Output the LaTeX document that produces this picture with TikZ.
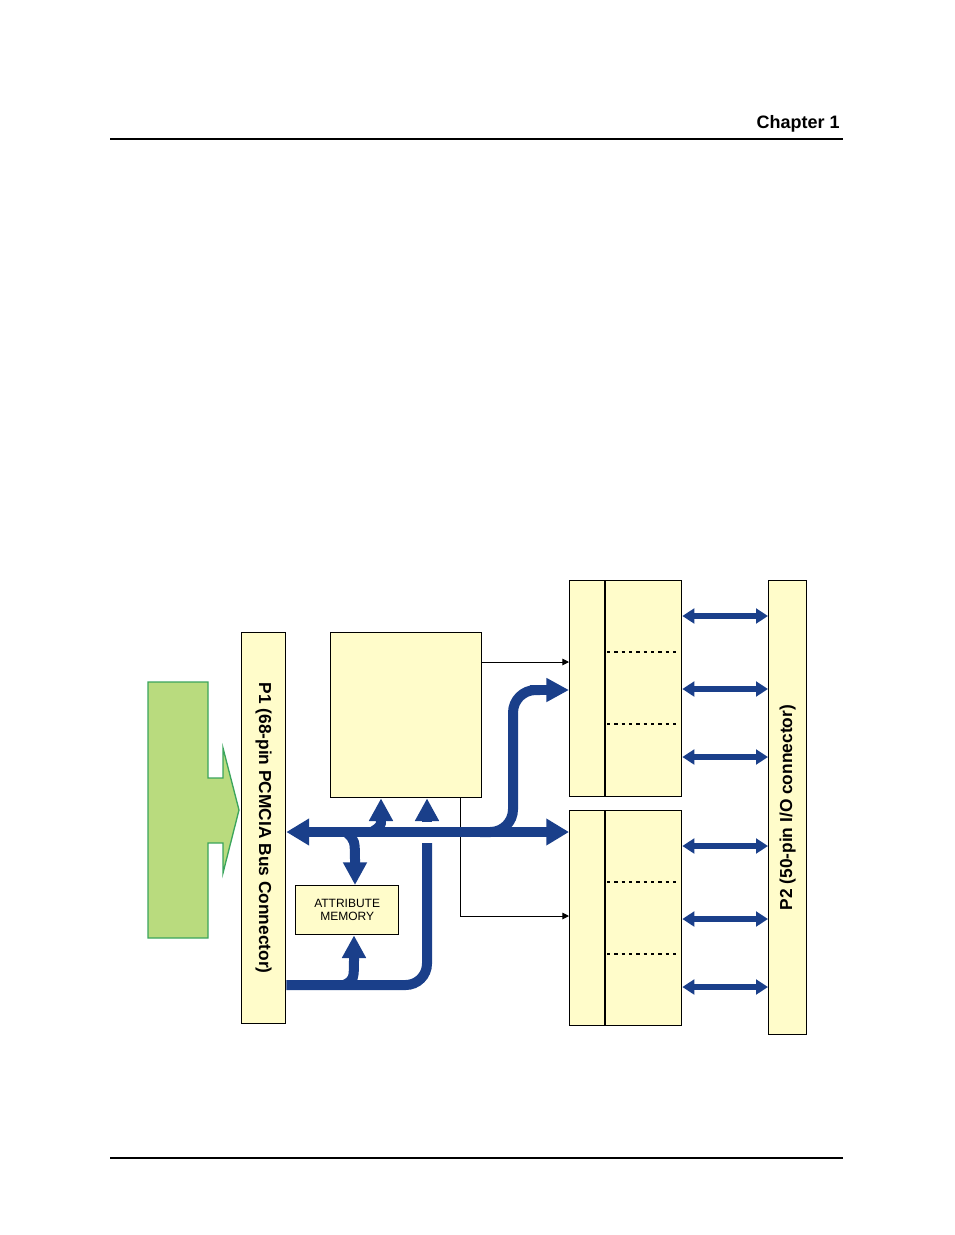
\documentclass[tikz,border=0pt]{standalone}
\usepackage{fontspec}
\setmainfont{Liberation Sans}
\usetikzlibrary{arrows.meta}
\definecolor{ylw}{HTML}{FFFCCA}
\definecolor{bus}{HTML}{1A3F8A}
\definecolor{grn}{HTML}{B9DB7E}
\definecolor{grnd}{HTML}{3BA55C}
\tikzset{
 box/.style={draw=black,line width=1pt,fill=ylw,inner sep=0pt,anchor=north west},
 busline/.style={draw=bus,line width=7.5pt},
 busarr/.style={busline,-{Triangle[length=17pt,width=17pt]}},
 busdbl/.style={busline,{Triangle[length=17pt,width=19pt]}-{Triangle[length=17pt,width=19pt]}},
 ioarr/.style={draw=bus,line width=4pt,{Triangle[length=9pt,width=11pt]}-{Triangle[length=9pt,width=11pt]}},
 ctl/.style={draw=black,line width=0.7pt,-{Triangle[length=5pt,width=5pt]}},
 dotsep/.style={draw=black,line width=0.9pt,dash pattern=on 2.5pt off 3pt}
}
\newcommand\bx[5]{\node[box,minimum width={(#4-#2)*0.75pt},minimum height={(#5-#3)*0.75pt}] (#1) at (#2,#3) {};}
\begin{document}
\begin{tikzpicture}[x=0.75pt,y=-0.75pt]
\useasboundingbox (0,0) rectangle (954,1235);
% header/footer
\node[anchor=south east,inner sep=0pt,font=\bfseries\fontsize{13.5}{15}\selectfont] (ch) at (840,133) {Chapter 1};
\coordinate (hl) at (110,139); \coordinate (hr) at (843,139);
\draw[line width=0.8pt] (hl) -- (hr);
\coordinate (fl) at (110,1158); \coordinate (fr) at (843,1158);
\draw[line width=0.8pt] (fl) -- (fr);
% green arrow
\draw[fill=grn,draw=grnd,line width=1pt] (148,682) -- (208,682) -- (208,778) -- (223,778) -- (223,748) -- (239,810) -- (223,873) -- (223,843) -- (208,843) -- (208,938) -- (148,938) -- cycle;
% boxes
\bx{P1}{241}{632}{285}{1023}
\node[rotate=-90,font=\bfseries\fontsize{13}{15}\selectfont] at (P1.center) {P1 (68-pin PCMCIA Bus Connector)};
\bx{CT}{330}{632}{481}{797}
\bx{AM}{295}{885}{398}{934}
\node[align=center,font=\fontsize{9}{10}\selectfont] at (AM.center) {ATTRIBUTE\\MEMORY};
\bx{M1}{569}{580}{681}{796}
\bx{M2}{569}{810}{681}{1025}
\bx{P2}{768}{580}{806}{1034}
\node[rotate=90,font=\bfseries\fontsize{13}{15}\selectfont] at (P2.center) {P2 (50-pin I/O connector)};
\draw[line width=0.8pt] (605,580) -- (605,796);
\draw[line width=0.8pt] (605,810) -- (605,1025);
\draw[dotsep] (607,652) -- (679,652);
\draw[dotsep] (607,724) -- (679,724);
\draw[dotsep] (607,882) -- (679,882);
\draw[dotsep] (607,954) -- (679,954);
% thin control lines
\draw[ctl] (CT.east|-0,662) -- (M1.west|-0,662);
\draw[ctl] (460,797) |- (M2.west|-0,916);
% buses
\draw[busline,rounded corners=16pt] (P1.east|-0,985) -| (427,843);
\draw[busarr] (427,822) -- (CT.south-|427,0);
\draw[busarr] (344,985) .. controls (354,980) .. (AM.south-|354,0);
\draw[busline,rounded corners=17pt] (480,832) -| (513,690) -- (540,690);
\draw[busarr] (530,690) -- (M1.west|-0,690);
\draw[busdbl] (P1.east|-0,832) -- (M2.west|-0,832);
\draw[busarr] (372,832) .. controls (381,826) .. (CT.south-|381,0);
\draw[busarr] (346,832) .. controls (355,840) .. (AM.north-|355,0);
% io arrows
\foreach \y in {616,689,757}{\draw[ioarr] (M1.east|-0,\y) -- (P2.west|-0,\y);}
\foreach \y in {846,919,987}{\draw[ioarr] (M2.east|-0,\y) -- (P2.west|-0,\y);}
\end{tikzpicture}
\end{document}
